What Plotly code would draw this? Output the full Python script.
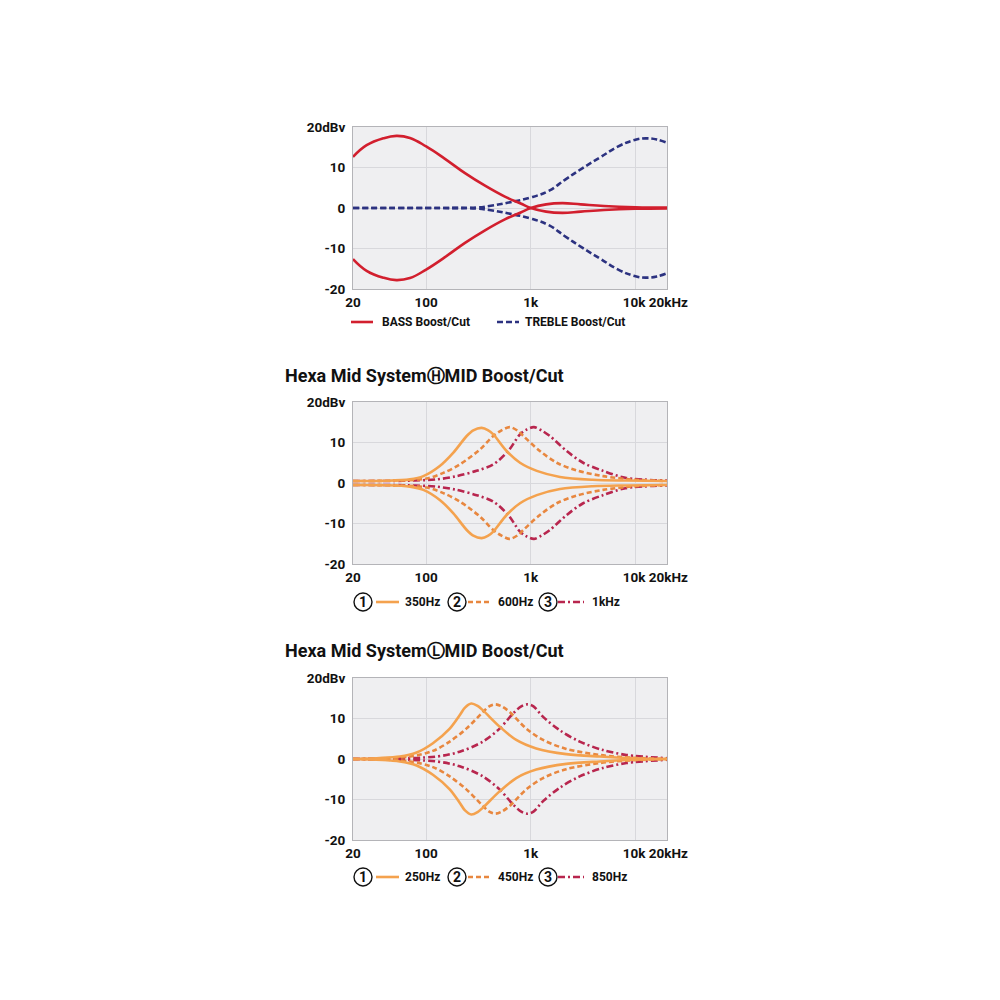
import plotly.graph_objects as go

# ---------------- data ----------------
BASS_F = [20, 27, 39, 52, 70, 100, 150, 235, 365, 565, 800, 1000, 1400, 2000, 3000, 5000, 10000, 20000]
BASS_BOOST = [12.6, 15.5, 17.2, 17.8, 17.3, 15.2, 12.2, 8.6, 5.5, 2.8, 1.1, 0.0, -0.9, -1.2, -0.9, -0.5, -0.2, -0.1]
BASS_CUT = [-12.6, -15.5, -17.2, -17.8, -17.3, -15.2, -12.2, -8.6, -5.5, -2.8, -1.1, 0.0, 0.9, 1.2, 0.9, 0.5, 0.2, 0.1]

TREBLE_F = [20, 100, 300, 400, 600, 1000, 1500, 2100, 3100, 4600, 6700, 9800, 12500, 16000, 20000]
TREBLE_BOOST = [0.0, 0.0, 0.1, 0.5, 1.3, 2.6, 4.3, 6.9, 9.8, 12.5, 15.1, 16.8, 17.2, 16.9, 16.1]
TREBLE_CUT = [0.0, 0.0, -0.1, -0.5, -1.3, -2.6, -4.3, -6.9, -9.8, -12.5, -15.1, -16.8, -17.2, -16.9, -16.1]

H1_F = [20, 40, 70, 94, 135, 182, 244, 282, 339, 392, 438, 587, 788, 1140, 1900, 3900, 8000, 20000]
H1_UP = [0.5, 0.55, 0.9, 1.7, 4.2, 7.5, 11.6, 13.0, 13.6, 13.0, 12.0, 7.9, 5.0, 3.0, 1.5, 0.8, 0.6, 0.5]
H1_DN = [-0.5, -0.55, -0.9, -1.7, -4.2, -7.5, -11.6, -13.0, -13.6, -13.0, -12.0, -7.9, -5.0, -3.0, -1.5, -0.8, -0.6, -0.5]

H2_F = [20, 50, 101, 146, 210, 327, 438, 525, 631, 759, 848, 1220, 1770, 2740, 4900, 10000, 20000]
H2_UP = [0.5, 0.6, 1.1, 2.5, 4.6, 8.3, 11.6, 13.0, 13.8, 12.8, 11.6, 7.9, 5.0, 3.1, 1.7, 0.8, 0.5]
H2_DN = [-0.5, -0.6, -1.1, -2.5, -4.6, -8.3, -11.6, -13.0, -13.8, -12.8, -11.6, -7.9, -5.0, -3.1, -1.7, -0.8, -0.5]

H3_F = [20, 60, 126, 196, 303, 438, 608, 788, 912, 1070, 1260, 1520, 2200, 3160, 4900, 8000, 20000]
H3_UP = [0.5, 0.55, 0.9, 1.7, 3.0, 4.6, 7.9, 12.0, 13.2, 13.8, 13.0, 11.6, 7.9, 5.0, 3.0, 1.3, 0.6]
H3_DN = [-0.5, -0.55, -0.9, -1.7, -3.0, -4.6, -7.9, -12.0, -13.2, -13.8, -13.0, -11.6, -7.9, -5.0, -3.0, -1.3, -0.6]

L1_F = [20, 56, 81, 116, 168, 209, 235, 270, 310, 349, 503, 726, 1127, 2180, 4550, 9500, 20000]
L1_UP = [0.0, 0.6, 1.6, 3.9, 7.5, 10.8, 12.7, 13.7, 13.1, 12.0, 8.0, 4.7, 2.6, 1.2, 0.6, 0.2, 0.0]
L1_DN = [0.0, -0.6, -1.6, -3.9, -7.5, -10.8, -12.7, -13.7, -13.1, -12.0, -8.0, -4.7, -2.6, -1.2, -0.6, -0.2, 0.0]

L2_F = [20, 70, 116, 168, 242, 349, 400, 458, 525, 628, 906, 1310, 2180, 4550, 9500, 20000]
L2_UP = [0.0, 0.6, 2.0, 4.3, 7.5, 11.6, 13.0, 13.5, 13.0, 11.6, 7.5, 4.7, 2.5, 1.0, 0.3, 0.0]
L2_DN = [0.0, -0.6, -2.0, -4.3, -7.5, -11.6, -13.0, -13.5, -13.0, -11.6, -7.5, -4.7, -2.5, -1.0, -0.3, 0.0]

L3_F = [20, 125, 209, 349, 503, 675, 810, 927, 1060, 1310, 1890, 2930, 4900, 8200, 20000]
L3_UP = [0.0, 0.6, 1.8, 4.3, 7.5, 11.2, 13.0, 13.5, 13.0, 10.4, 7.1, 4.3, 2.2, 1.0, 0.2]
L3_DN = [0.0, -0.6, -1.8, -4.3, -7.5, -11.2, -13.0, -13.5, -13.0, -10.4, -7.1, -4.3, -2.2, -1.0, -0.2]

X_TICKS = [20, 100, 1000, 10000, 20000]
X_TICK_TEXT = ["20", "100", "1k", "10k\u2009", "\u200920kHz"]
Y_TICKS = [-20, -10, 0, 10, 20]
Y_TICK_TEXT = ["-20", "-10", "0", "10", "20dBv"]

TITLE_H = "Hexa Mid System\u24bdMID Boost/Cut"
TITLE_L = "Hexa Mid System\u24c1MID Boost/Cut"
LEG1 = ["BASS Boost/Cut", "TREBLE Boost/Cut"]
LEG_H = ["350Hz", "600Hz", "1kHz"]
LEG_L = ["250Hz", "450Hz", "850Hz"]

# ---------------- styling / layout ----------------
FONT = "Roboto, Liberation Sans, DejaVu Sans, sans-serif"
RED = "#d21f2e"
NAVY = "#2c3280"
OR1 = "#f4a24e"
OR2 = "#e8873f"
CRIM = "#b8264e"
PLOT_BG = "#efeff1"
GRID = "#d8d8dc"

W = 984
OFF = 8  # page body margin


def px(x):
    return (x - OFF) / W


def py(y):
    return 1 - (y - OFF) / W


XL, XR = 353, 667
PANELS = [(127, 289), (402, 564), (678, 840)]

fig = go.Figure()


def add(i, f, v, color, dash, name, smooth=0.9):
    fig.add_trace(go.Scatter(
        x=f, y=v, mode="lines", name=name, showlegend=False,
        line=dict(color=color, width=2.6, dash=dash, shape="spline", smoothing=smooth),
        xaxis="x" if i == 1 else f"x{i}", yaxis="y" if i == 1 else f"y{i}",
        hoverinfo="skip"))


D_TRE = "6px,3px"
D_OR = "5px,3px"
D_DD = "7px,3px,2px,3px"

add(1, TREBLE_F, TREBLE_BOOST, NAVY, D_TRE, "TREBLE Boost", 1.2)
add(1, TREBLE_F, TREBLE_CUT, NAVY, D_TRE, "TREBLE Cut", 1.2)
add(1, BASS_F, BASS_BOOST, RED, "solid", "BASS Boost", 1.2)
add(1, BASS_F, BASS_CUT, RED, "solid", "BASS Cut", 1.2)

add(2, H3_F, H3_UP, CRIM, D_DD, "1kHz")
add(2, H3_F, H3_DN, CRIM, D_DD, "1kHz")
add(2, H2_F, H2_UP, OR2, D_OR, "600Hz")
add(2, H2_F, H2_DN, OR2, D_OR, "600Hz")
add(2, H1_F, H1_UP, OR1, "solid", "350Hz")
add(2, H1_F, H1_DN, OR1, "solid", "350Hz")

add(3, L3_F, L3_UP, CRIM, D_DD, "850Hz")
add(3, L3_F, L3_DN, CRIM, D_DD, "850Hz")
add(3, L2_F, L2_UP, OR2, D_OR, "450Hz")
add(3, L2_F, L2_DN, OR2, D_OR, "450Hz")
add(3, L1_F, L1_UP, OR1, "solid", "250Hz")
add(3, L1_F, L1_DN, OR1, "solid", "250Hz")

tickfont = dict(family=FONT, size=13.5, color="#111111", weight="bold")
layout = dict(
    template="none",
    width=W, height=W, autosize=False,
    margin=dict(l=0, r=0, t=0, b=0, pad=0),
    paper_bgcolor="white", plot_bgcolor=PLOT_BG,
    showlegend=False,
)
for i, (top, bot) in enumerate(PANELS, start=1):
    sx = "" if i == 1 else str(i)
    layout[f"xaxis{sx}"] = dict(
        type="log", range=[1.30103, 4.30103], domain=[px(XL), px(XR)],
        anchor=f"y{sx}", tickvals=X_TICKS, ticktext=X_TICK_TEXT, tickangle=0,
        showgrid=True, gridcolor=GRID, gridwidth=1, zeroline=False,
        showline=True, linecolor="#b4b4b8", linewidth=1, mirror=True,
        ticks="", tickfont=tickfont, ticklabelstandoff=1, automargin=False,
        fixedrange=True)
    layout[f"yaxis{sx}"] = dict(
        range=[-20, 20], domain=[py(bot), py(top)], anchor=f"x{sx}",
        tickvals=Y_TICKS, ticktext=Y_TICK_TEXT,
        showgrid=True, gridcolor=GRID, gridwidth=1, zeroline=False,
        showline=True, linecolor="#b4b4b8", linewidth=1, mirror=True,
        ticks="", tickfont=tickfont, ticklabelstandoff=4, automargin=False,
        fixedrange=True)
fig.update_layout(**layout)

ann = []
shapes = []


def text(x, y, s, size=12, anchor="left"):
    ann.append(dict(x=px(x), y=py(y), xref="paper", yref="paper", text=s,
                    showarrow=False, xanchor=anchor, yanchor="middle",
                    font=dict(family=FONT, size=size, color="#111111", weight="bold")))


def sample(x0, x1, y, color, dash):
    shapes.append(dict(type="line", xref="paper", yref="paper",
                       x0=px(x0), x1=px(x1), y0=py(y), y1=py(y),
                       line=dict(color=color, width=2.6, dash=dash)))


def circ(cx, cy, num):
    r = 9
    shapes.append(dict(type="circle", xref="paper", yref="paper",
                       x0=px(cx - r), x1=px(cx + r), y0=py(cy + r), y1=py(cy - r),
                       line=dict(color="#111111", width=1.4), fillcolor="white"))
    ann.append(dict(x=px(cx), y=py(cy), xref="paper", yref="paper", text=num,
                    showarrow=False, xanchor="center", yanchor="middle",
                    font=dict(family=FONT, size=14, color="#111111", weight="bold")))


# titles
text(283, 375, TITLE_H, size=18)
text(283, 650, TITLE_L, size=18)

# legend 1
sample(351, 373, 322, RED, "solid")
text(380, 322, LEG1[0], size=12)
sample(497, 519, 322, NAVY, D_TRE)
text(523, 322, LEG1[1], size=12)

# legend H / L
for ly, labels in ((602, LEG_H), (877, LEG_L)):
    for (cx, lx0, lx1, tx), col, dsh, num, lab in zip(
            [(363, 376, 399, 403), (457, 468, 492, 496), (548, 558, 584, 590)],
            [OR1, OR2, CRIM], ["solid", D_OR, D_DD], ["1", "2", "3"], labels):
        circ(cx, ly, num)
        sample(lx0, lx1, ly, col, dsh)
        text(tx, ly, lab, size=12)

fig.update_layout(annotations=ann, shapes=shapes)
fig.write_html("out.html")
